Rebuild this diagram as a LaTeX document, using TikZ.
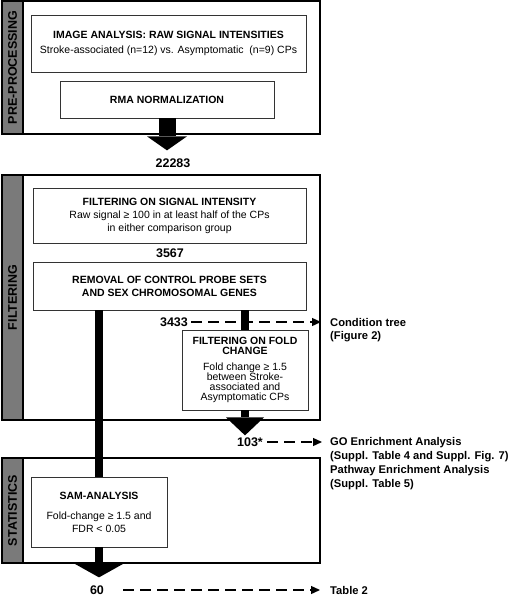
\documentclass[tikz,border=0pt]{standalone}
\usepackage{fontspec}
\usepackage{graphicx}
\setmainfont{Liberation Sans}
\usetikzlibrary{arrows.meta}
\usetikzlibrary{positioning}

\tikzset{
  sectionbox/.style={draw=black,line width=1.2pt,minimum width=318pt,inner sep=0pt},
  sidebar/.style={draw=black,line width=1.2pt,fill=black!52,minimum width=21pt,inner sep=0pt,
    font=\fontsize{12.5}{14}\selectfont\bfseries},
  stepbox/.style={draw=black!80,line width=0.9pt,fill=white,align=center,inner sep=0pt,
    font=\fontsize{10.5}{13}\selectfont},
  countlabel/.style={font=\fontsize{12.5}{14}\selectfont\bfseries,inner sep=2pt},
  outlabel/.style={anchor=west,font=\fontsize{11.2}{13}\selectfont\bfseries,inner sep=2pt},
  blockarrow/.style={line width=#1,line cap=butt},
  dasharrow/.style={line width=1.3pt,dash pattern=on 11pt off 6pt,-{Triangle[length=9pt,width=8pt]}},
}

\begin{document}
\begin{tikzpicture}[x=1pt,y=-1pt]
\useasboundingbox (0,0) rectangle (520,597);

% the three stages
\node[sectionbox,minimum height=133pt] (pre) at (161,67.5) {};
\node[sidebar,minimum height=133pt] (prebar) at (12.5,67.5) {\rotatebox{90}{PRE-PROCESSING}};
\node[sectionbox,minimum height=245pt] (filt) at (161,297.5) {};
\node[sidebar,minimum height=245pt] (filtbar) at (12.5,297.5) {\rotatebox{90}{FILTERING}};
\node[sectionbox,minimum height=105pt] (stat) at (161,510.5) {};
\node[sidebar,minimum height=105pt] (statbar) at (12.5,510.5) {\rotatebox{90}{STATISTICS}};

\node[stepbox,minimum width=275pt,minimum height=57pt] (imgbox) at (168.5,43.5)
  {\textbf{IMAGE ANALYSIS: RAW SIGNAL INTENSITIES}\\[2pt]
   Stroke-associated (n=12) vs. Asymptomatic\ \ (n=9) CPs};
\node[stepbox,minimum width=214pt,minimum height=37pt] (rma) at (167,99.5) {\textbf{RMA NORMALIZATION}};

\node[stepbox,minimum width=273pt,minimum height=55pt] (sigbox) at (169.5,215.5)
  {\textbf{FILTERING ON SIGNAL INTENSITY}\\
   Raw signal ≥ 100 in at least half of the CPs\\
   in either comparison group};
\node[stepbox,minimum width=273pt,minimum height=48pt] (removal) at (169.5,286)
  {\textbf{REMOVAL OF CONTROL PROBE SETS}\\\textbf{AND SEX CHROMOSOMAL GENES}};
\node[stepbox,minimum width=126pt,minimum height=80pt,font=\fontsize{10.5}{9.6}\selectfont] (fold) at (245,370)
  {\textbf{FILTERING ON FOLD}\\\textbf{CHANGE}\\[6pt]
   Fold change ≥ 1.5\\between Stroke-\\associated and\\Asymptomatic CPs};
\node[stepbox,minimum width=136pt,minimum height=70pt] (sam) at (99,512)
  {\textbf{SAM-ANALYSIS}\\[7pt]Fold-change ≥ 1.5 and\\FDR < 0.05};

\node[countlabel] (n22283) at (173,163) {22283};
\node[countlabel] (n3567) at (170,253) {3567};
\node[countlabel] (n3433) at (174,322) {3433};
\node[countlabel] (n103) at (250,442) {103*};
\node[countlabel] (n60) at (97,590) {60};

\node[outlabel] (cond1) at (328,322) {Condition tree};
\node[outlabel] (cond2) at (328,337) {(Figure 2)};
\node[outlabel] (go1) at (328,443) {GO Enrichment Analysis};
\node[outlabel] (go2) at (328,457) {(Suppl. Table 4 and Suppl. Fig. 7)};
\node[outlabel] (go3) at (328,471) {Pathway Enrichment Analysis};
\node[outlabel] (go4) at (328,485) {(Suppl. Table 5)};
\node[outlabel] (tab2) at (328,590) {Table 2};

% thick flow arrows
\draw[blockarrow=17pt,-{Triangle[width=40pt,length=14pt,line width=0pt]},shorten >=6pt]
  (rma.south) -- (rma.south |- n22283.north);
\draw[blockarrow=8pt] (removal.south -| fold.north) -- (fold.north);
\draw[blockarrow=8pt,-{Triangle[width=38pt,length=18pt,line width=0pt]}]
  (fold.south) -- (fold.south |- n103.north);
\draw[blockarrow=8pt] (removal.south -| sam.north) -- (sam.north);
\draw[blockarrow=8pt,-{Triangle[width=50pt,length=14pt,line width=0pt]},shorten >=6pt]
  (sam.south) -- (sam.south |- n60.north);

% side outputs
\draw[dasharrow,shorten <=1pt,shorten >=7pt] (n3433.east) -- (cond1.west);
\draw[dasharrow,shorten <=2pt,shorten >=6pt] (n103.east) -- (go1.west |- n103.east);
\draw[dasharrow,shorten <=17pt,shorten >=8pt] (n60.east) -- (tab2.west);
\end{tikzpicture}
\end{document}
